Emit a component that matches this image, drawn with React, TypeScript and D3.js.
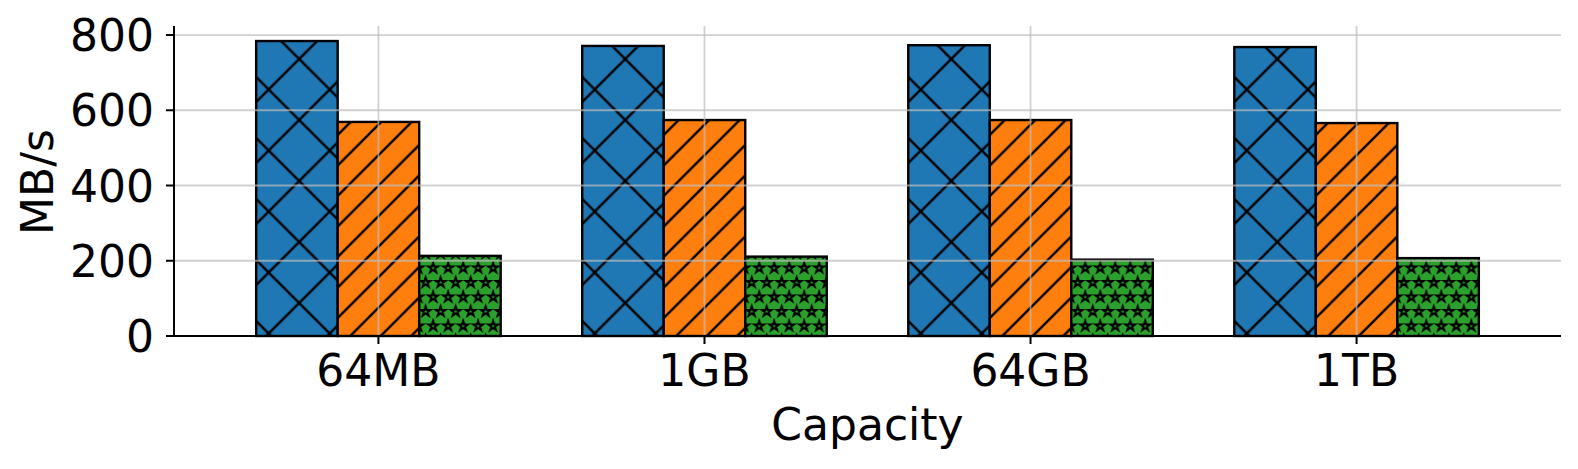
import React from 'react';
import * as d3 from 'd3';

const width = 1578;
const height = 469;
const left = 174;
const right = 1561;
const top = 26;
const bottom = 336;

const categories = ['64MB', '1GB', '64GB', '1TB'];
const seriesCross = [784, 771, 773, 768];
const seriesSlash = [569, 574, 574, 566];
const seriesStar = [213, 211, 203, 207];
const yTicks = [0, 200, 400, 600, 800];

const series = [
    { key: 'cross', values: seriesCross, color: '#1f77b4' },
    { key: 'slash', values: seriesSlash, color: '#ff7f0e' },
    { key: 'star', values: seriesStar, color: '#2ca02c' },
];

const barWidth = 0.25;

const x = d3.scaleLinear()
    .domain([-0.627, categories.length - 1 + 0.627])
    .range([left, right]);

const y = d3.scaleLinear()
    .domain([0, 824])
    .range([bottom, top]);

const font = 'DejaVu Sans';
const fontSize = 44;

const starPath = d3.symbol().type(d3.symbolStar).size(30)() as string;

// hatch tiles
const P = 61;
const crossTile = `M0,0L${P},${P}M0,${P}L${P},0` +
    `M-2,${P - 2}L2,${P + 2}M${P - 2},-2L${P + 2},2M-2,2L2,-2M${P - 2},${P + 2}L${P + 2},${P - 2}`;
const S = 30.5;
const slashTile = `M0,${S}L${S},0M-2,2L2,-2M${S - 2},${S + 2}L${S + 2},${S - 2}`;
const starW = 15;
const starH = 29;
const starSpots = [[0, 0], [starW, 0], [0, starH], [starW, starH], [starW / 2, starH / 2]];

export default function App() {
    const bars = series.flatMap((s, si) =>
        s.values.map((v, i) => {
            const x0 = x(i + (si - 1) * barWidth - barWidth / 2);
            const x1 = x(i + (si - 1) * barWidth + barWidth / 2);
            return { s, si, i, v, x0, x1, id: `h-${s.key}-${i}` };
        })
    );

    return (
        <svg width={width} height={height} style={{ position: 'absolute', left: 0, top: 0 }}
            fontFamily={font}>
            <defs>
                {bars.map(b => {
                    if (b.s.key === 'cross') {
                        return (
                            <pattern key={b.id} id={b.id} patternUnits="userSpaceOnUse"
                                x={b.x0 + 43 - P / 2} y={59 - P / 2} width={P} height={P}>
                                <rect width={P} height={P} fill={b.s.color} />
                                <path d={crossTile} stroke="#000" strokeWidth={2.4} fill="none" />
                            </pattern>
                        );
                    }
                    if (b.s.key === 'slash') {
                        return (
                            <pattern key={b.id} id={b.id} patternUnits="userSpaceOnUse"
                                x={b.x0} y={13} width={S} height={S}>
                                <rect width={S} height={S} fill={b.s.color} />
                                <path d={slashTile} stroke="#000" strokeWidth={2.4} fill="none" />
                            </pattern>
                        );
                    }
                    return (
                        <pattern key={b.id} id={b.id} patternUnits="userSpaceOnUse"
                            x={b.x0 - 1} y={7} width={starW} height={starH}>
                            <rect width={starW} height={starH} fill={b.s.color} />
                            {starSpots.map(([sx, sy], k) => (
                                <path key={k} d={starPath} transform={`translate(${sx},${sy})`}
                                    stroke="#000" strokeWidth={2} fill="none" />
                            ))}
                        </pattern>
                    );
                })}
            </defs>

            {bars.map(b => (
                <rect key={b.id} x={b.x0} y={y(b.v)} width={b.x1 - b.x0} height={y(0) - y(b.v)}
                    fill={`url(#${b.id})`} stroke="#000" strokeWidth={2.4} />
            ))}

            {/* grid */}
            <g stroke="#bdbdbd" strokeOpacity={0.7} strokeWidth={1.8}>
                {yTicks.map(t => (
                    <line key={t} x1={left} x2={right} y1={y(t)} y2={y(t)} />
                ))}
                {categories.map((c, i) => (
                    <line key={c} x1={x(i)} x2={x(i)} y1={top} y2={bottom} />
                ))}
            </g>

            {/* axes */}
            <g stroke="#000" strokeWidth={2}>
                <line x1={left} x2={left} y1={top} y2={bottom + 1} />
                <line x1={left - 1} x2={right} y1={bottom} y2={bottom} />
                {yTicks.map(t => (
                    <line key={t} x1={left - 8} x2={left} y1={y(t)} y2={y(t)} />
                ))}
                {categories.map((c, i) => (
                    <line key={c} x1={x(i)} x2={x(i)} y1={bottom} y2={bottom + 8} />
                ))}
            </g>

            <g fontSize={fontSize} fill="#000">
                {yTicks.map(t => (
                    <text key={t} x={154} y={y(t) + 16} textAnchor="end">{t}</text>
                ))}
                {categories.map((c, i) => (
                    <text key={c} x={x(i)} y={386} textAnchor="middle">{c}</text>
                ))}
                <text x={(left + right) / 2} y={440} textAnchor="middle">Capacity</text>
                <text transform="translate(53,182) rotate(-90)" textAnchor="middle">MB/s</text>
            </g>
        </svg>
    );
}
